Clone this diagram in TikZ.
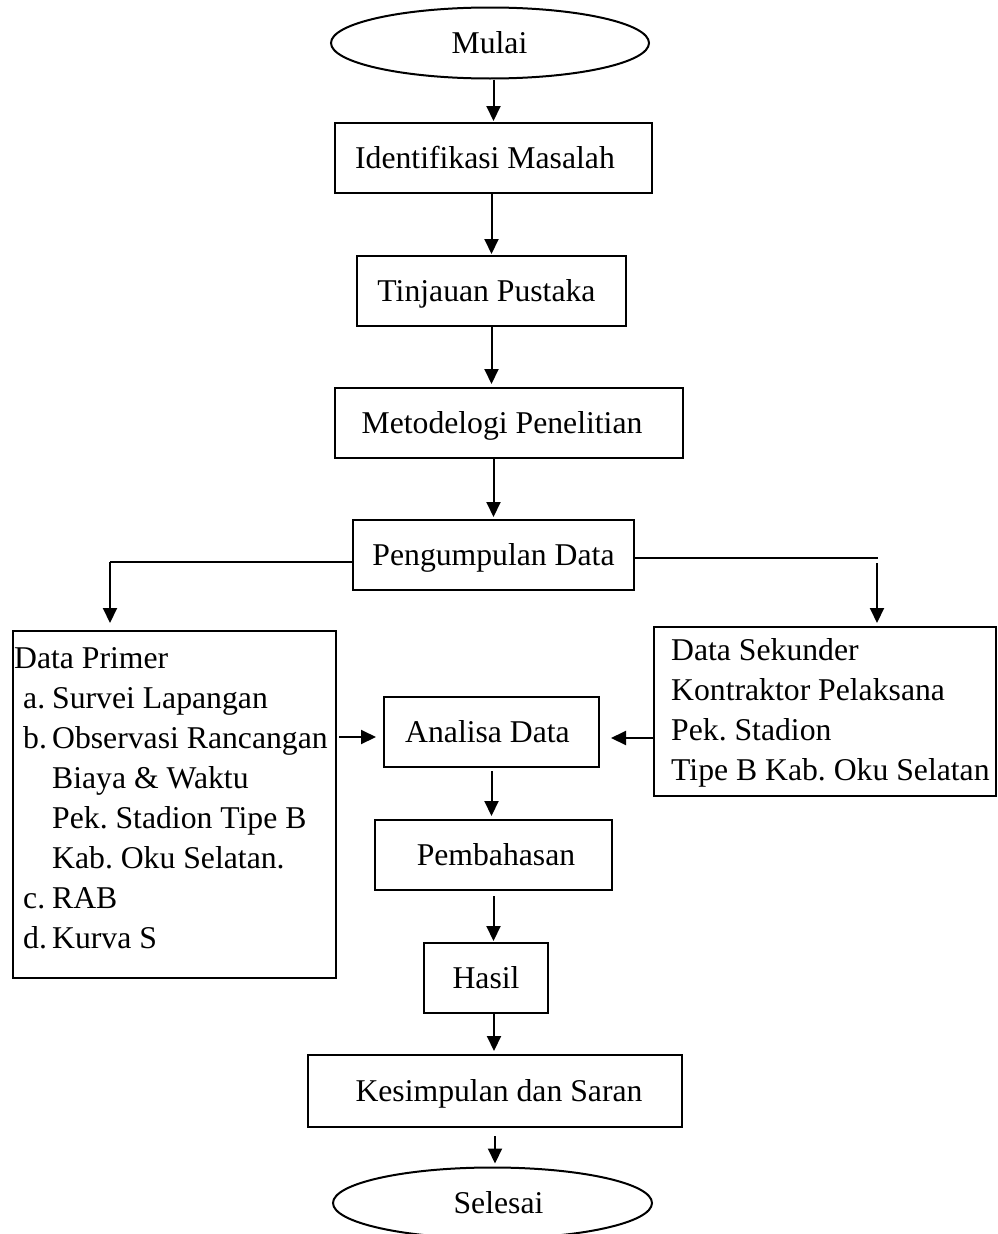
\documentclass[tikz,border=0pt]{standalone}
\usepackage{fontspec}
\setmainfont{Liberation Serif}
\usetikzlibrary{shapes.geometric,arrows.meta,calc}
\frenchspacing
\begin{document}
\begin{tikzpicture}[x=1pt,y=-1pt,
  every node/.style={font=\fontsize{31.7}{40}\selectfont},
  box/.style={draw, line width=2pt, rectangle, inner sep=0pt, text height=21pt, text depth=0pt},
  oval/.style={draw, line width=2pt, ellipse, inner sep=0pt, text height=21pt, text depth=0pt},
  arr/.style={line width=2pt, -{Triangle[length=15pt,width=14pt]}},
  ln/.style={line width=2pt},
  txt/.style={inner sep=0pt, anchor=base west}]
\useasboundingbox (0,0) rectangle (998,1234);
\clip (0,0) rectangle (998,1234);

% nodes
\node[oval, minimum width=318pt, minimum height=71pt] (mulai) at (490,43) {Mulai\hspace*{1pt}};
\node[box, minimum width=317pt, minimum height=70pt] (ident) at (493.5,158) {Identifikasi Masalah\hspace*{17pt}};
\node[box, minimum width=269pt, minimum height=70pt] (tinj) at (491.5,291) {Tinjauan Pustaka\hspace*{10pt}};
\node[box, minimum width=348pt, minimum height=70pt] (metod) at (509,423) {Metodelogi Penelitian\hspace*{14pt}};
\node[box, minimum width=281pt, minimum height=70pt] (peng) at (493.5,555) {Pengumpulan Data};
\node[box, minimum width=323pt, minimum height=347pt, anchor=north west] (dp) at (12,630) {};
\node[box, minimum width=342pt, minimum height=169pt, anchor=north west] (ds) at (653,626) {};
\node[box, minimum width=215pt, minimum height=70pt] (anal) at (491.5,732) {Analisa Data\hspace*{8pt}};
\node[box, minimum width=237pt, minimum height=70pt] (pemb) at (493.5,855) {\hspace*{5pt}Pembahasan};
\node[box, minimum width=124pt, minimum height=70pt] (hasil) at (486,978) {Hasil};
\node[box, minimum width=374pt, minimum height=72pt] (kes) at (495,1091) {\hspace*{8pt}Kesimpulan dan Saran};
\node[oval, minimum width=319pt, minimum height=71pt] (sel) at (492.5,1203) {\hspace*{12pt}Selesai};

% texts of the two data boxes
\node[txt] (dptext) at (14,668) {\begin{tabular}[t]{@{}l@{}}
Data Primer\\
\hspace*{9pt}\makebox[29pt][l]{a.}Survei Lapangan\\
\hspace*{9pt}\makebox[29pt][l]{b.}Observasi Rancangan\\
\hspace*{38pt}Biaya \& Waktu\\
\hspace*{38pt}Pek. Stadion Tipe B\\
\hspace*{38pt}Kab. Oku Selatan.\\
\hspace*{9pt}\makebox[29pt][l]{c.}RAB\\
\hspace*{9pt}\makebox[29pt][l]{d.}Kurva S
\end{tabular}};
\node[txt] (dstext) at (671,660) {\begin{tabular}[t]{@{}l@{}}
Data Sekunder\\
Kontraktor Pelaksana\\
Pek. Stadion\\
Tipe B Kab. Oku Selatan
\end{tabular}};

% connectors
\draw[arr, shorten >=1pt] (ident.north |- mulai.south) -- (ident.north);
\draw[arr, shorten >=1pt] (tinj.north |- ident.south) -- (tinj.north);
\draw[arr, shorten >=3pt] (tinj.south) -- (tinj.south |- metod.north);
\draw[arr, shorten >=2pt] (peng.north |- metod.south) -- (peng.north);

\coordinate (lturn) at (110,562);
\draw[ln] ([yshift=-7pt]peng.west) -- (lturn);
\draw[arr, shorten >=7pt] (lturn) -- (lturn |- dp.north);

\coordinate (rturn) at (878,558);
\draw[ln] ([yshift=-3pt]peng.east) -- (rturn);
\draw[arr, shorten <=5pt, shorten >=3pt] ([xshift=-1pt]rturn) -- ([xshift=-1pt]rturn |- ds.north);

\draw[arr, shorten <=2pt, shorten >=7pt] ([yshift=-5pt]anal.west -| dp.east) -- ([yshift=-5pt]anal.west);
\draw[arr, shorten >=11pt] ([yshift=-6pt]anal.east -| ds.west) -- ([yshift=-6pt]anal.east);

\draw[arr, shorten <=3pt, shorten >=3pt] (anal.south) -- (anal.south |- pemb.north);
\draw[arr, shorten <=5pt, shorten >=1pt] (pemb.south) -- (pemb.south |- hasil.north);
\draw[arr, shorten >=3pt] ([xshift=-1pt]kes.north |- hasil.south) -- ([xshift=-1pt]kes.north);
\draw[arr, shorten <=8pt, shorten >=3pt] (kes.south) -- (kes.south |- sel.north);
\end{tikzpicture}
\end{document}
